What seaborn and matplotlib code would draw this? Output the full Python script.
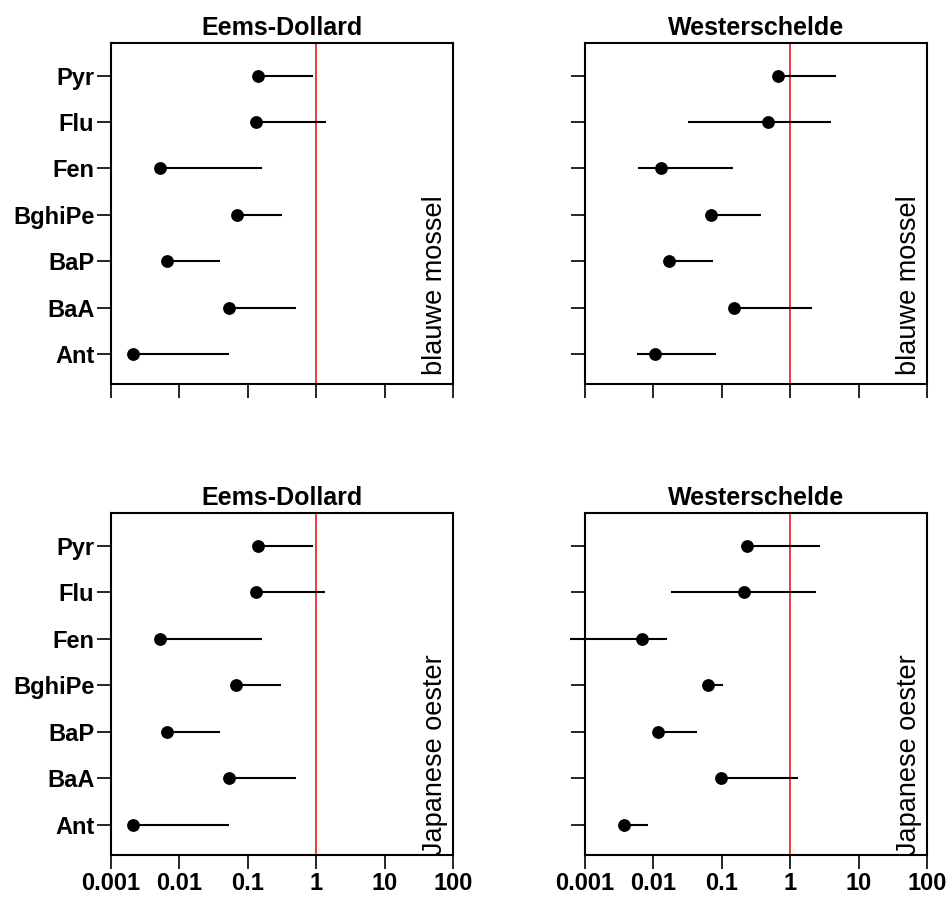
import numpy as np
import pandas as pd
import matplotlib
matplotlib.use("Agg")
import matplotlib.pyplot as plt
import seaborn as sns

# ---- data ----
compounds = ["Pyr", "Flu", "Fen", "BghiPe", "BaP", "BaA", "Ant"]
estuaries = ["Eems-Dollard", "Westerschelde"]
species = ["blauwe mossel", "Japanese oester"]
xticks = [0.001, 0.01, 0.1, 1, 10, 100]
xticklabels = ["0.001", "0.01", "0.1", "1", "10", "100"]

ed_mossel_mid = [0.142, 0.134, 0.0052, 0.0685, 0.00665, 0.0535, 0.00212]
ed_mossel_low = [0.142, 0.134, 0.0052, 0.0685, 0.00665, 0.0535, 0.00212]
ed_mossel_high = [0.90, 1.37, 0.164, 0.311, 0.039, 0.515, 0.0535]

ws_mossel_mid = [0.66, 0.466, 0.0127, 0.0692, 0.0169, 0.153, 0.0105]
ws_mossel_low = [0.66, 0.0316, 0.00588, 0.0692, 0.0169, 0.153, 0.0058]
ws_mossel_high = [4.74, 4.0, 0.147, 0.368, 0.0732, 2.09, 0.0828]

ed_oester_mid = [0.139, 0.133, 0.0052, 0.0677, 0.0065, 0.0529, 0.0021]
ed_oester_low = [0.139, 0.133, 0.0052, 0.0677, 0.0065, 0.0529, 0.0021]
ed_oester_high = [0.912, 1.35, 0.164, 0.307, 0.0387, 0.509, 0.0529]

ws_oester_mid = [0.232, 0.212, 0.0068, 0.0626, 0.0118, 0.0968, 0.0037]
ws_oester_low = [0.232, 0.018, 0.00061, 0.0626, 0.0118, 0.0968, 0.0037]
ws_oester_high = [2.77, 2.37, 0.0158, 0.1025, 0.0437, 1.28, 0.0083]

panels = {
    ("blauwe mossel", "Eems-Dollard"): (ed_mossel_low, ed_mossel_mid, ed_mossel_high),
    ("blauwe mossel", "Westerschelde"): (ws_mossel_low, ws_mossel_mid, ws_mossel_high),
    ("Japanese oester", "Eems-Dollard"): (ed_oester_low, ed_oester_mid, ed_oester_high),
    ("Japanese oester", "Westerschelde"): (ws_oester_low, ws_oester_mid, ws_oester_high),
}

rows = []
for (sp, est), (lo, mi, hi) in panels.items():
    for c, l, m, h in zip(compounds, lo, mi, hi):
        rows.append(dict(species=sp, estuary=est, compound=c, low=l, mid=m, high=h))
df = pd.DataFrame(rows)
ypos_map = {c: len(compounds) - 1 - i for i, c in enumerate(compounds)}
df["ypos"] = df["compound"].map(ypos_map)

# ---- style ----
sns.set_theme(style="white")
plt.rcParams["font.family"] = ["Liberation Sans", "DejaVu Sans"]
plt.rcParams["text.color"] = "black"
plt.rcParams["axes.labelcolor"] = "black"
plt.rcParams["xtick.color"] = "black"
plt.rcParams["ytick.color"] = "black"

fig = plt.figure(figsize=(9.49, 8.99), dpi=100)
W, H = 949, 899
boxes = {
    (0, 0): (111, 43, 453, 384),
    (0, 1): (585, 43, 927, 384),
    (1, 0): (111, 513, 453, 855),
    (1, 1): (585, 513, 927, 855),
}
side_y = {"blauwe mossel": 0.027, "Japanese oester": 0.0}

for r, sp in enumerate(species):
    for c, est in enumerate(estuaries):
        x0, y0, x1, y1 = boxes[(r, c)]
        ax = fig.add_axes([x0 / W, 1 - y1 / H, (x1 - x0) / W, (y1 - y0) / H])
        sub = df[(df.species == sp) & (df.estuary == est)]
        ax.set_xscale("log")
        ax.hlines(sub["ypos"], sub["low"], sub["high"], color="black", lw=1.5,
                  clip_on=False, zorder=2)
        sns.scatterplot(data=sub, x="mid", y="ypos", ax=ax, color="black", s=85,
                        edgecolor="black", linewidth=0, zorder=3, legend=False)
        ax.axvline(1, color="#ee2a2a", lw=1.3, zorder=1)
        ax.set_xlim(0.001, 100)
        ax.set_ylim(-0.65, len(compounds) - 1 + 0.705)
        ax.set_xticks(xticks)
        ax.xaxis.set_minor_locator(matplotlib.ticker.NullLocator())
        ax.set_yticks([ypos_map[cc] for cc in compounds])
        if c == 0:
            ax.set_yticklabels(compounds, fontsize=17, fontweight="bold")
        else:
            ax.set_yticklabels([])
        if r == 1:
            ax.set_xticklabels(xticklabels, fontsize=17, fontweight="bold")
        else:
            ax.set_xticklabels([])
        ax.set_xlabel("")
        ax.set_ylabel("")
        ax.tick_params(axis="both", which="major", direction="out", length=10,
                       width=1.2, color="black", left=True, bottom=True,
                       top=False, right=False, pad=2)
        for s in ax.spines.values():
            s.set_color("black")
            s.set_linewidth(1.5)
        ax.set_title(est, fontsize=18, fontweight="bold", pad=6, color="black")
        ax.text(0.985, side_y[sp], sp, rotation=90, ha="right", va="bottom",
                transform=ax.transAxes, fontsize=19.5, color="black")

fig.savefig("out.png", dpi=100)
